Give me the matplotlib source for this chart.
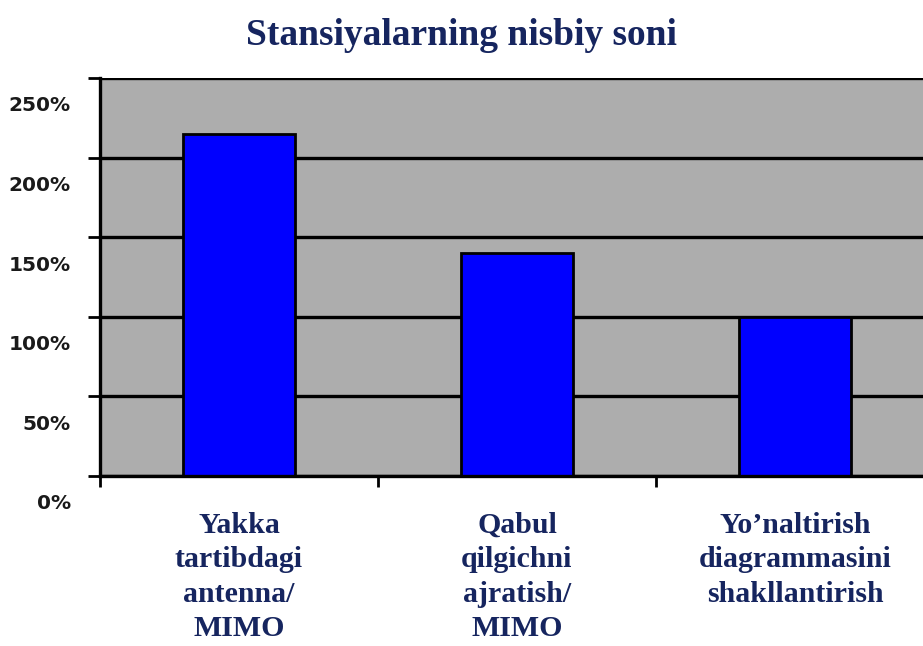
import matplotlib.pyplot as plt
from matplotlib.ticker import FixedLocator, FuncFormatter
from matplotlib.transforms import ScaledTranslation

categories = [
    "Yakka\ntartibdagi\nantenna/\nMIMO",
    "Qabul\nqilgichni\najratish/\nMIMO",
    "Yo\u2019naltirish\ndiagrammasini\nshakllantirish",
]
shares = [215, 140, 100]  # percent
y_ticks = [0, 50, 100, 150, 200, 250]

navy = "#16255f"

fig = plt.figure(figsize=(9.23, 6.46), dpi=100)
ax = fig.add_axes([0.1083, 0.2632, 0.9036, 0.6161])
ax.set_facecolor("#adadad")

x = list(range(len(categories)))
ax.bar(x, shares, width=0.4, color="#0000ff", edgecolor="black", linewidth=2, zorder=3)

ax.set_xlim(-0.5, len(categories) - 0.5)
ax.set_ylim(0, 250)

# horizontal grid in black, like an old spreadsheet chart
ax.yaxis.set_major_locator(FixedLocator(y_ticks))
ax.yaxis.set_major_formatter(FuncFormatter(lambda v, p: "%d%%" % v))
ax.grid(axis="y", color="black", linewidth=2.4, zorder=1)
ax.set_axisbelow(True)

for side in ["top", "right"]:
    ax.spines[side].set_visible(False)
for side in ["left", "bottom"]:
    ax.spines[side].set_linewidth(2.4)
    ax.spines[side].set_zorder(4)

ax.tick_params(axis="y", length=9, width=2, pad=12, labelsize=14.5, labelcolor="#1a1a1a")
for lab in ax.get_yticklabels():
    lab.set_fontweight("bold")
    lab.set_transform(lab.get_transform() + ScaledTranslation(0, -0.26, fig.dpi_scale_trans))

# category separators as minor ticks, names under the bars
ax.set_xticks([i - 0.5 for i in range(len(categories) + 1)], minor=True)
ax.set_xticks(x)
ax.set_xticklabels(categories, family="Liberation Serif", fontweight="bold",
                   fontsize=21.5, color=navy, linespacing=1.35)
ax.tick_params(axis="x", which="major", length=0, pad=26)
ax.tick_params(axis="x", which="minor", length=8, width=2)

fig.text(0.5, 0.945, "Stansiyalarning nisbiy soni", ha="center", va="center",
         family="Liberation Serif", fontweight="bold", fontsize=27, color=navy)

fig.savefig("out.png", dpi=100)
